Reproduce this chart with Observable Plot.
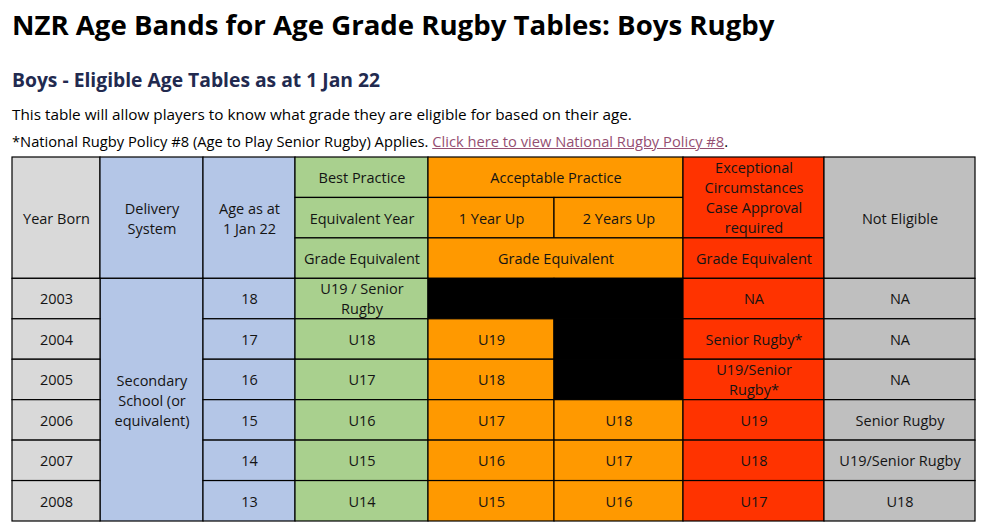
<!DOCTYPE html>
<html>
<head>
<meta charset="utf-8">
<script src="https://cdn.jsdelivr.net/npm/d3@7"></script>
<script src="https://cdn.jsdelivr.net/npm/@observablehq/plot@0.6"></script>
<style>
  html, body { margin: 0; padding: 0; background: #fff; }
  body { width: 992px; height: 531px; position: relative; overflow: hidden; font-family: "Open Sans", sans-serif; }
  #top { position: relative; height: 150px; }
  #top div { position: absolute; left: 12px; white-space: nowrap; line-height: 1.362; }
  #title { top: 6px; font-size: 27.6px; font-weight: 700; color: #000; }
  #subtitle { top: 67px; font-size: 19.3px; font-weight: 700; color: #222a4f; }
  #line1 { top: 104px; font-size: 15.3px; color: #000; }
  #line2 { top: 131px; font-size: 14.7px; color: #000; }
  #line2 a { color: #954f72; text-decoration: underline; }
</style>
</head>
<body>
<div id="top">
  <div id="title">NZR Age Bands for Age Grade Rugby Tables: Boys Rugby</div>
  <div id="subtitle">Boys - Eligible Age Tables as at 1 Jan 22</div>
  <div id="line1">This table will allow players to know what grade they are eligible for based on their age.</div>
  <div id="line2">*National Rugby Policy #8 (Age to Play Senior Rugby) Applies. <a>Click here to view National Rugby Policy #8</a>.</div>
</div>
<div id="chart"></div>
<script>
// ---- Data ----
const yearsBorn = ["2003", "2004", "2005", "2006", "2007", "2008"];
const deliverySystem = "Secondary\nSchool (or\nequivalent)";
const ages = ["18", "17", "16", "15", "14", "13"];
const bestPractice = ["U19 / Senior\nRugby", "U18", "U17", "U16", "U15", "U14"];
const oneYearUp = [null, "U19", "U18", "U17", "U16", "U15"];
const twoYearsUp = [null, null, null, "U18", "U17", "U16"];
const exceptional = ["NA", "Senior Rugby*", "U19/Senior\nRugby*", "U19", "U18", "U17"];
const notEligible = ["NA", "NA", "NA", "Senior Rugby", "U19/Senior Rugby", "U18"];

// ---- Layout / style ----
const colWidths = [88, 103, 92, 133, 126, 129, 141, 151];
const colEdges = [0];
colWidths.forEach(w => colEdges.push(colEdges[colEdges.length - 1] + w));
const C = {
  year: "#d9d9d9", blue: "#b4c6e7", green: "#a9d08e",
  orange: "#ff9900", red: "#ff3300", grey: "#bfbfbf", black: "#000000"
};

const cells = [];
function cell(c0, c1, r0, r1, fill, text) {
  cells.push({x1: colEdges[c0], x2: colEdges[c1], y1: r0, y2: r1, fill, text: text || ""});
}
// header
cell(0, 1, 0, 3, C.year, "Year Born");
cell(1, 2, 0, 3, C.blue, "Delivery\nSystem");
cell(2, 3, 0, 3, C.blue, "Age as at\n1 Jan 22");
cell(3, 4, 0, 1, C.green, "Best Practice");
cell(3, 4, 1, 2, C.green, "Equivalent Year");
cell(3, 4, 2, 3, C.green, "Grade Equivalent");
cell(4, 6, 0, 1, C.orange, "Acceptable Practice");
cell(4, 5, 1, 2, C.orange, "1 Year Up");
cell(5, 6, 1, 2, C.orange, "2 Years Up");
cell(4, 6, 2, 3, C.orange, "Grade Equivalent");
cell(6, 7, 0, 2, C.red, "Exceptional\nCircumstances\nCase Approval\nrequired");
cell(6, 7, 2, 3, C.red, "Grade Equivalent");
cell(7, 8, 0, 3, C.grey, "Not Eligible");
// body
cell(1, 2, 3, 3 + yearsBorn.length, C.blue, deliverySystem);
yearsBorn.forEach((y, i) => {
  const r = 3 + i;
  cell(0, 1, r, r + 1, C.year, y);
  cell(2, 3, r, r + 1, C.blue, ages[i]);
  cell(3, 4, r, r + 1, C.green, bestPractice[i]);
  cell(4, 5, r, r + 1, oneYearUp[i] ? C.orange : C.black, oneYearUp[i]);
  cell(5, 6, r, r + 1, twoYearsUp[i] ? C.orange : C.black, twoYearsUp[i]);
  cell(6, 7, r, r + 1, C.red, exceptional[i]);
  cell(7, 8, r, r + 1, C.grey, notEligible[i]);
});

const nRows = 3 + yearsBorn.length;
const chart = Plot.plot({
  width: 992,
  height: 381,
  marginTop: 7,
  marginBottom: 10,
  marginLeft: 12,
  marginRight: 17,
  x: {domain: [0, colEdges[colEdges.length - 1]], axis: null},
  y: {domain: [0, nRows], reverse: true, axis: null},
  color: {type: "identity"},
  style: {fontFamily: "Open Sans, sans-serif", background: "white", overflow: "visible"},
  marks: [
    Plot.rect(cells, {x1: "x1", x2: "x2", y1: "y1", y2: "y2", fill: "fill", stroke: "#000", strokeWidth: 1.2}),
    Plot.text(cells, {
      x: d => (d.x1 + d.x2) / 2,
      y: d => (d.y1 + d.y2) / 2,
      text: "text",
      fontSize: 14.5,
      lineHeight: 1.38,
      dy: -1,
      fill: "#141414"
    })
  ]
});
document.getElementById("chart").appendChild(chart);
</script>
</body>
</html>
